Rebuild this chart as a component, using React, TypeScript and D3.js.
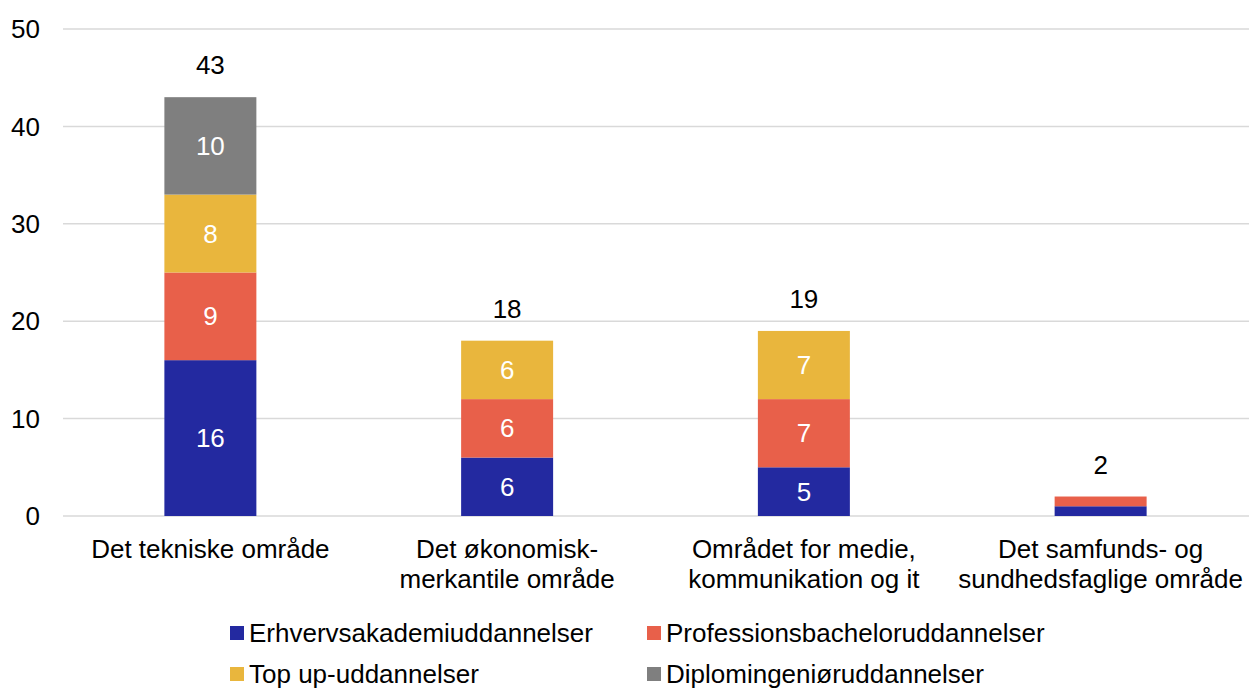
import React, { useEffect, useRef } from 'react';
import * as d3 from 'd3';

const categories = [
  ['Det tekniske område'],
  ['Det økonomisk-', 'merkantile område'],
  ['Området for medie,', 'kommunikation og it'],
  ['Det samfunds- og', 'sundhedsfaglige område'],
];
const seriesNames = [
  'Erhvervsakademiuddannelser',
  'Professionsbacheloruddannelser',
  'Top up-uddannelser',
  'Diplomingeniøruddannelser',
];
const erhverv = [16, 6, 5, 1];
const profession = [9, 6, 7, 1];
const topUp = [8, 6, 7, 0];
const diplom = [10, 0, 0, 0];
const colors = ['#2329a0', '#e8604a', '#e9b63d', '#7f7f7f'];
const yTicks = [0, 10, 20, 30, 40, 50];

const App = () => {
  const svgRef = useRef<SVGSVGElement>(null);

  useEffect(() => {
    const svg = d3.select(svgRef.current);
    svg.selectAll('*').remove();
    const font = 'Liberation Sans, Arial, sans-serif';
    const fs = 26;

    const left = 62, right = 1249, top = 29, bottom = 516;
    const x = d3.scaleBand<number>()
      .domain(categories.map((_, i) => i))
      .range([left, right])
      .paddingInner(0.69)
      .paddingOuter(0.345);
    const y = d3.scaleLinear().domain([0, 50]).range([bottom, top]);

    // grid
    svg.append('g')
      .selectAll('line')
      .data(yTicks)
      .join('line')
      .attr('x1', left + 1)
      .attr('x2', right)
      .attr('y1', d => y(d))
      .attr('y2', d => y(d))
      .attr('stroke', '#d9d9d9')
      .attr('stroke-width', 1.5);

    svg.append('g')
      .selectAll('text')
      .data(yTicks)
      .join('text')
      .attr('x', 40)
      .attr('y', d => y(d))
      .attr('dy', '0.35em')
      .attr('text-anchor', 'end')
      .attr('font-family', font)
      .attr('font-size', fs)
      .attr('fill', '#000')
      .text(d => d);

    const data = categories.map((_, i) => ({
      i,
      v: [erhverv[i], profession[i], topUp[i], diplom[i]],
    }));
    const stack = d3.stack<any>()
      .keys([0, 1, 2, 3] as any)
      .value((d: any, k: any) => d.v[k]);
    const layers = stack(data);

    layers.forEach((layer, k) => {
      const g = svg.append('g');
      g.selectAll('rect')
        .data(layer.filter(d => d[1] - d[0] > 0))
        .join('rect')
        .attr('x', d => x((d.data as any).i)!)
        .attr('width', x.bandwidth())
        .attr('y', d => y(d[1]))
        .attr('height', d => y(d[0]) - y(d[1]))
        .attr('fill', colors[k]);
      g.selectAll('text')
        .data(layer.filter(d => d[1] - d[0] >= 2))
        .join('text')
        .attr('x', d => x((d.data as any).i)! + x.bandwidth() / 2)
        .attr('y', d => y((d[0] + d[1]) / 2))
        .attr('dy', '0.35em')
        .attr('text-anchor', 'middle')
        .attr('font-family', font)
        .attr('font-size', fs)
        .attr('fill', '#fff')
        .text(d => d[1] - d[0]);
    });

    // totals
    svg.append('g')
      .selectAll('text')
      .data(data)
      .join('text')
      .attr('x', d => x(d.i)! + x.bandwidth() / 2)
      .attr('y', d => y(d3.sum(d.v)) - 32)
      .attr('dy', '0.35em')
      .attr('text-anchor', 'middle')
      .attr('font-family', font)
      .attr('font-size', fs)
      .attr('fill', '#000')
      .text(d => d3.sum(d.v));

    // x labels
    const xl = svg.append('g');
    categories.forEach((lines, i) => {
      const t = xl.append('text')
        .attr('text-anchor', 'middle')
        .attr('font-family', font)
        .attr('font-size', fs)
        .attr('fill', '#000');
      lines.forEach((ln, j) => {
        t.append('tspan')
          .attr('x', x(i)! + x.bandwidth() / 2)
          .attr('y', 558 + j * 30)
          .text(ln);
      });
    });

    // legend
    const legendPos = [
      [230, 633], [647, 633], [230, 674], [647, 674],
    ];
    const lg = svg.append('g');
    seriesNames.forEach((name, k) => {
      const [lx, ly] = legendPos[k];
      lg.append('rect')
        .attr('x', lx)
        .attr('y', ly - 7)
        .attr('width', 14)
        .attr('height', 14)
        .attr('fill', colors[k]);
      lg.append('text')
        .attr('x', lx + 19)
        .attr('y', ly)
        .attr('dy', '0.35em')
        .attr('font-family', font)
        .attr('font-size', fs)
        .attr('fill', '#000')
        .text(name);
    });
  }, []);

  return (
    <svg
      ref={svgRef}
      width={1249}
      height={690}
      style={{ position: 'absolute', left: 0, top: 0, background: '#fff' }}
    />
  );
};

export default App;
